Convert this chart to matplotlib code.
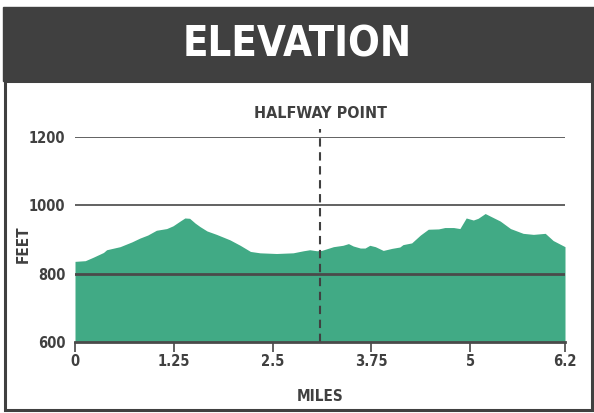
import numpy as np
import matplotlib
matplotlib.use("Agg")
import matplotlib.pyplot as plt
from matplotlib.patches import Rectangle
from matplotlib import font_manager

# elevation profile (miles, feet)
miles = [0.0, 0.13, 0.23, 0.36, 0.40, 0.57, 0.72, 0.82, 0.92, 1.03, 1.16, 1.24,
         1.33, 1.39, 1.45, 1.52, 1.58, 1.67, 1.79, 1.96, 2.09, 2.22, 2.34, 2.55,
         2.76, 2.89, 2.97, 3.06, 3.12, 3.27, 3.39, 3.46, 3.52, 3.61, 3.67, 3.73,
         3.80, 3.90, 4.01, 4.11, 4.15, 4.26, 4.37, 4.47, 4.60, 4.68, 4.79, 4.87,
         4.95, 5.04, 5.10, 5.19, 5.25, 5.38, 5.51, 5.67, 5.80, 5.95, 6.05, 6.20]
feet = [836, 838, 848, 862, 870, 879, 893, 904, 913, 927, 932, 940,
        954, 963, 962, 948, 938, 925, 915, 899, 883, 865, 861, 859,
        861, 867, 870, 867, 868, 879, 883, 888, 881, 875, 875, 883,
        879, 868, 874, 878, 885, 890, 913, 930, 931, 935, 935, 932,
        963, 957, 962, 976, 969, 954, 932, 918, 915, 918, 897, 879]

xticks = [0, 1.25, 2.5, 3.75, 5, 6.2]
xtick_labels = ["0", "1.25", "2.5", "3.75", "5", "6.2"]
yticks = [600, 800, 1000, 1200]
halfway = 3.1

DARK = "#404040"
GREEN = "#41aa85"

# condensed bold face for all the text
fp = font_manager.FontProperties(family="DejaVu Sans", weight="bold",
                                 stretch="condensed")


def cfont(size):
    p = fp.copy()
    p.set_size(size)
    return p


fig = plt.figure(figsize=(5.94, 4.13), dpi=100)
W, H = 594, 413

# header band and panel border
fig.patches.append(Rectangle((3 / W, 1 - 81 / H), 591 / W, 74 / H,
                             transform=fig.transFigure, color=DARK, zorder=0))
fig.patches.append(Rectangle((5 / W, 1 - 410 / H), 587 / W, 329 / H,
                             transform=fig.transFigure, fill=False,
                             edgecolor=DARK, linewidth=2.2, zorder=0))
fig.text(297 / W, 1 - 44.5 / H, "ELEVATION", color="white",
         fontproperties=cfont(30), ha="center", va="center")

ax = fig.add_axes([75 / W, 1 - 342 / H, 490 / W, 205 / H])
ax.fill_between(miles, feet, 600, color=GREEN, linewidth=0, zorder=1)
ax.set_xlim(0, 6.2)
ax.set_ylim(600, 1200)

for y in [1000, 1200]:
    ax.axhline(y, color="#555555", linewidth=1.3, zorder=2)
ax.axhline(800, color="#4a4a4a", linewidth=2, zorder=3)
ax.axvline(halfway, ymin=0, ymax=1.04, color=DARK, linewidth=1.5,
           linestyle=(0, (4, 2.7)), clip_on=False, zorder=4)
ax.text(halfway, 1270, "HALFWAY POINT", color=DARK, fontproperties=cfont(11.5),
        ha="center", va="center")

for side in ["top", "right", "left"]:
    ax.spines[side].set_visible(False)
ax.spines["bottom"].set_color("#4a4a4a")
ax.spines["bottom"].set_linewidth(2)
ax.spines["bottom"].set_zorder(5)

ax.set_xticks(xticks)
ax.set_xticklabels(xtick_labels)
ax.set_yticks(yticks)
ax.tick_params(axis="x", length=7, width=1.3, color="#555555", pad=2,
               labelcolor=DARK)
ax.tick_params(axis="y", length=0, pad=7, labelcolor=DARK)
for lab in ax.get_xticklabels() + ax.get_yticklabels():
    lab.set_fontproperties(cfont(10.5))

ax.set_xlabel("MILES", color=DARK, fontproperties=cfont(11))
ax.xaxis.set_label_coords(0.5, -0.228)
ax.set_ylabel("FEET", color=DARK, fontproperties=cfont(11))
ax.yaxis.set_label_coords(-0.09, 0.475)

fig.savefig("out.png", dpi=100)
